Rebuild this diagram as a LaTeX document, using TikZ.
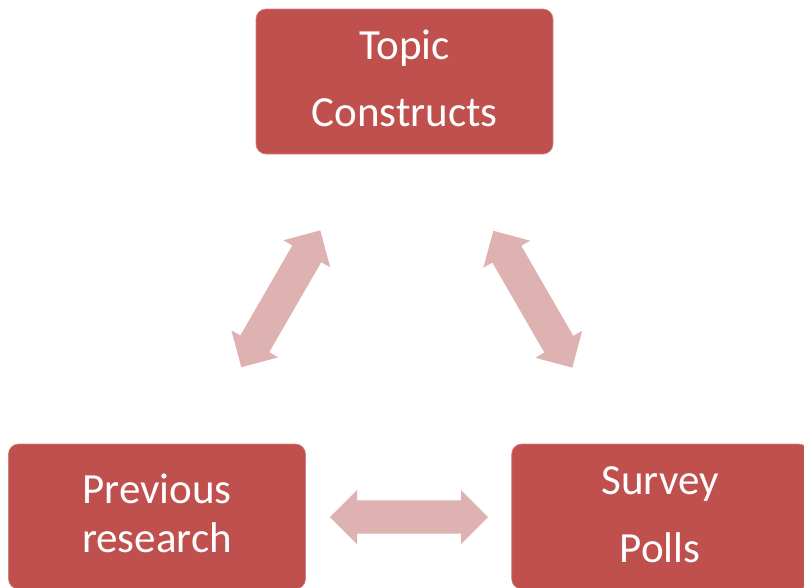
\documentclass[tikz,border=0pt]{standalone}
\usepackage{fontspec}
\setmainfont{Carlito}
\usetikzlibrary{calc}
\definecolor{boxc}{HTML}{C0504D}
\definecolor{arrowc}{HTML}{DDB2B1}
\newcommand{\dblarr}[3]{%
  \fill[arrowc, shift={#1}, rotate=#2, name=#3]
    (-79,0) -- (-52,27) -- (-52,16.7) -- (52,16.7) -- (52,27) -- (79,0)
    -- (52,-27) -- (52,-16.7) -- (-52,-16.7) -- (-52,-27) -- cycle;}
\begin{document}
\begin{tikzpicture}[x=1pt,y=-1pt,
  boxnode/.style={rectangle, rounded corners=10pt, fill=boxc, draw={rgb,255:red,210;green,130;blue,128}, line width=0.6pt,
    minimum width=297pt, minimum height=145pt, inner sep=0pt},
  txt/.style={text=white, font=\fontsize{43}{50}\selectfont, anchor=base, inner sep=0pt}]
\useasboundingbox (0,0) rectangle (804,587);
\clip (0,0) rectangle (804,587);
\fill[white] (0,0) rectangle (804,587);
% boxes
\node[boxnode] (topbox) at (404.5,81.5) {};
\node[boxnode] (leftbox) at (157,516.5) {};
\node[boxnode] (rightbox) at (660.2,516.5) {};
% texts
\node[txt] (t1) at ($(topbox.north)+(0,51)$) {Topic};
\node[txt] (t2) at ($(topbox.north)+(0,117.7)$) {Constructs};
\node[txt] (l1) at ($(leftbox.north)+(0,60)$) {Previous};
\node[txt] (l2) at ($(leftbox.north)+(0,108.7)$) {research};
\node[txt] (r1) at ($(rightbox.north)+(0,51)$) {Survey};
\node[txt] (r2) at ($(rightbox.north)+(0,118.7)$) {Polls};
% double block arrows
\dblarr{(280.8,298.8)}{60}{arrowleft}
\dblarr{(532.8,299.2)}{-60}{arrowright}
\dblarr{(409,517)}{0}{arrowbottom}
\end{tikzpicture}
\end{document}
